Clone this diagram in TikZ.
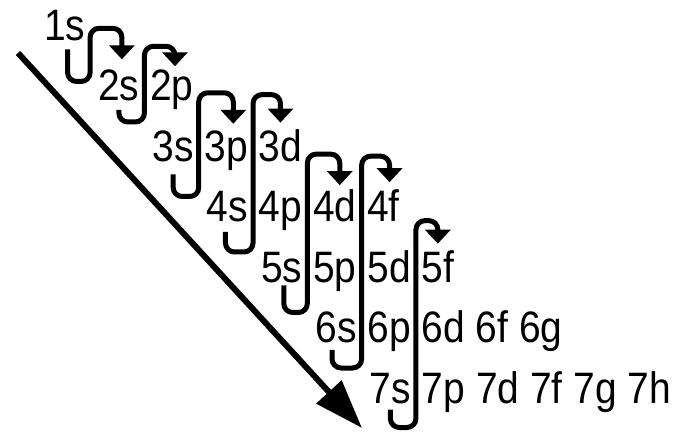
\documentclass[tikz,border=0pt]{standalone}
\usepackage{fontspec}
\setmainfont{Liberation Sans}[FakeStretch=0.885]
\usetikzlibrary{arrows.meta}
\tikzset{
  orbital/.style={anchor=base west,inner sep=0pt,outer sep=0pt,font=\fontsize{44}{50}\selectfont},
  bracket/.style={line width=5pt,rounded corners=9pt,-{Triangle[length=14pt,width=25pt]}},
}
\begin{document}
\begin{tikzpicture}[x=1pt,y=-1pt]
  \useasboundingbox (0,0) rectangle (677,435);
  % one row per shell
  \node (1s) at (44,40.5) [orbital] {1s};
  \node (2s) at (98.3,101) [orbital] {2s};
  \node (2p) at (150.3,101) [orbital] {2p};
  \node (3s) at (152.6,161.5) [orbital] {3s};
  \node (3p) at (204.6,161.5) [orbital] {3p};
  \node (3d) at (258.8,161.5) [orbital] {3d};
  \node (4s) at (206.9,222) [orbital] {4s};
  \node (4p) at (258.9,222) [orbital] {4p};
  \node (4d) at (313.1,222) [orbital] {4d};
  \node (4f) at (367.3,222) [orbital] {4f};
  \node (5s) at (261.2,282.5) [orbital] {5s};
  \node (5p) at (313.2,282.5) [orbital] {5p};
  \node (5d) at (367.4,282.5) [orbital] {5d};
  \node (5f) at (421.6,282.5) [orbital] {5f};
  \node (6s) at (315.5,343) [orbital] {6s};
  \node (6p) at (367.5,343) [orbital] {6p};
  \node (6d) at (421.7,343) [orbital] {6d};
  \node (6f) at (475.9,343) [orbital] {6f};
  \node (6g) at (519.2,343) [orbital] {6g};
  \node (7s) at (369.8,403.5) [orbital] {7s};
  \node (7p) at (421.8,403.5) [orbital] {7p};
  \node (7d) at (476,403.5) [orbital] {7d};
  \node (7f) at (530.2,403.5) [orbital] {7f};
  \node (7g) at (573.5,403.5) [orbital] {7g};
  \node (7h) at (627.7,403.5) [orbital] {7h};
  % filling order
  \coordinate (first) at (18,53);
  \coordinate (last) at (362,428);
  \draw [line width=6pt,-{Triangle[length=49pt,width=33pt]}] (first) -- (last);
  % hooks
  \draw [bracket] ([xshift=3pt,yshift=-9pt]1s.base) |- ([xshift=5pt,yshift=-41pt]1s.base east) |- ([xshift=3pt,yshift=42pt]2s.north) -- ([xshift=3pt,yshift=11pt]2s.north);
  \draw [bracket] ([yshift=-9pt]2s.base) |- ([xshift=5pt,yshift=-21pt]2s.base east) |- ([xshift=3pt,yshift=24pt]2p.north) -- ([xshift=3pt,yshift=4pt]2p.north);
  \draw [bracket] ([yshift=-13pt]3s.base) |- ([xshift=5pt,yshift=-35pt]3s.base east) |- ([xshift=7pt,yshift=38pt]3p.north) -- ([xshift=7pt,yshift=7pt]3p.north);
  \draw [bracket] ([xshift=-2pt,yshift=-10pt]4s.base) |- ([xshift=5pt,yshift=-30pt]4s.base east) |- ([yshift=35pt]3d.north) -- ([yshift=7pt]3d.north);
  \draw [bracket] ([xshift=2pt,yshift=-3pt]5s.base) |- ([xshift=5pt,yshift=-30pt]5s.base east) |- ([xshift=5pt,yshift=36pt]4d.north) -- ([xshift=5pt,yshift=5pt]4d.north);
  \draw [bracket] ([xshift=-4pt,yshift=-7pt]6s.base) |- ([xshift=5pt,yshift=-25pt]6s.base east) |- ([xshift=6pt,yshift=34pt]4f.north) -- ([xshift=6pt,yshift=8pt]4f.north);
  \draw [bracket] ([yshift=-6pt]7s.base) |- ([xshift=5pt,yshift=-24pt]7s.base east) |- ([yshift=30pt]5f.north) -- ([yshift=7pt]5f.north);
\end{tikzpicture}
\end{document}
